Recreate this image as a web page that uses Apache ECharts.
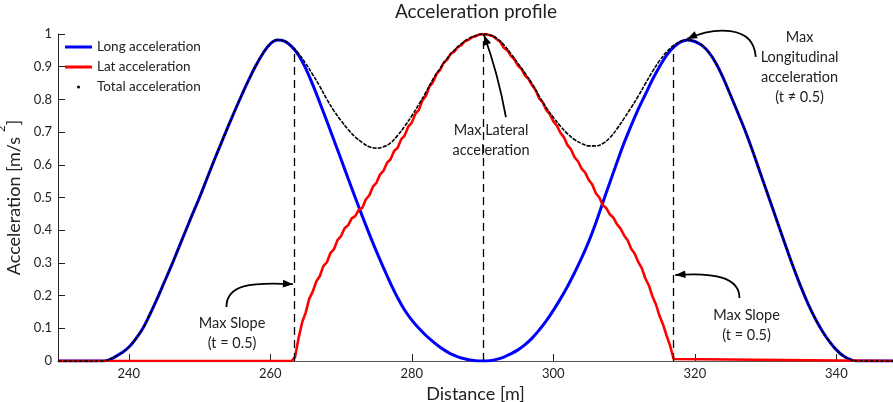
<!DOCTYPE html>
<html><head><meta charset="utf-8">
<script src="https://cdn.jsdelivr.net/npm/echarts@6/dist/echarts.min.js"></script>
<style>html,body{margin:0;padding:0;background:#fff}#c{width:893px;height:402px}</style>
</head><body><div id="c"></div>
<script>
// ---------- data ----------
const distance = [230,231,232,233,234,235,236,237,238,239,
  240,241,242,243,244,245,246,247,248,249,
  250,251,252,253,254,255,256,257,258,259,
  260,261,262,263,264,265,266,267,268,269,
  270,271,272,273,274,275,276,277,278,279,
  280,281,282,283,284,285,286,287,288,289,
  290,291,292,293,294,295,296,297,298,299,
  300,301,302,303,304,305,306,307,308,309,
  310,311,312,313,314,315,316,317,318,319,
  320,321,322,323,324,325,326,327,328,329,
  330,331,332,333,334,335,336,337,338,339,
  340,341,342,343,344,345,346,347,348];
const longAccel = [0,0,0,0,0,0,0,0.002,0.012,0.025,
  0.042,0.068,0.1,0.143,0.19,0.24,0.29,0.343,0.396,0.449,
  0.5,0.555,0.61,0.663,0.715,0.766,0.815,0.862,0.905,0.942,
  0.97,0.982,0.978,0.962,0.935,0.895,0.845,0.79,0.733,0.675,
  0.617,0.558,0.5,0.443,0.388,0.335,0.285,0.237,0.193,0.155,
  0.125,0.1,0.078,0.059,0.042,0.028,0.017,0.009,0.004,0.001,
  0,0.001,0.005,0.012,0.022,0.034,0.05,0.07,0.095,0.123,
  0.155,0.19,0.228,0.27,0.315,0.365,0.422,0.485,0.547,0.608,
  0.667,0.72,0.77,0.815,0.86,0.9,0.935,0.96,0.976,0.982,
  0.977,0.965,0.943,0.91,0.866,0.815,0.763,0.71,0.652,0.59,
  0.528,0.466,0.404,0.342,0.282,0.226,0.175,0.13,0.092,0.06,
  0.034,0.015,0.004,0,0,0,0,0,0];
const totalAccel = [0,0,0,0,0,0,0,0.002,0.012,0.025,
  0.042,0.068,0.1,0.143,0.19,0.24,0.29,0.343,0.396,0.449,
  0.5,0.555,0.61,0.663,0.715,0.766,0.815,0.862,0.905,0.942,
  0.97,0.982,0.978,0.962,0.94,0.91,0.876,0.84,0.8,0.765,
  0.735,0.708,0.685,0.668,0.655,0.651,0.655,0.667,0.69,0.718,
  0.75,0.785,0.822,0.862,0.895,0.925,0.95,0.97,0.985,0.995,
  1.0,0.997,0.987,0.967,0.94,0.91,0.88,0.848,0.81,0.775,
  0.745,0.718,0.695,0.677,0.665,0.658,0.658,0.665,0.683,0.71,
  0.742,0.775,0.81,0.848,0.885,0.918,0.945,0.965,0.978,0.982,
  0.977,0.965,0.943,0.91,0.866,0.815,0.763,0.71,0.652,0.59,
  0.528,0.466,0.404,0.342,0.282,0.226,0.175,0.13,0.092,0.06,
  0.034,0.015,0.004,0,0,0,0,0,0];
const latDistance = [230,263,263.5,264,264.5,265,265.5,266,266.5,267,267.5,268,268.5,269,269.5,
  270,270.5,271,271.5,272,272.5,273,273.5,274,274.5,275,275.5,276,276.5,277,277.5,278,278.5,279,279.5,
  280,280.5,281,281.5,282,282.5,283,283.5,284,284.5,285,285.5,286,286.5,287,287.5,288,288.5,289,289.5,
  290,290.5,291,291.5,292,292.5,293,293.5,294,294.5,295,295.5,296,296.5,297,297.5,298,298.5,299,299.5,
  300,300.5,301,301.5,302,302.5,303,303.5,304,304.5,305,305.5,306,306.5,307,307.5,308,308.5,309,309.5,
  310,310.5,311,311.5,312,312.5,313,313.5,314,314.5,315,315.5,316,316.5,317,317.2,348];
const latAccel = [0,0,0.012,0.07,0.118,0.148,0.19,0.212,0.243,0.26,0.29,0.302,0.33,0.342,0.37,
  0.382,0.406,0.415,0.436,0.443,0.462,0.468,0.494,0.507,0.533,0.545,0.57,0.582,0.606,0.617,0.642,0.652,0.678,0.69,0.717,
  0.729,0.756,0.768,0.797,0.811,0.84,0.853,0.878,0.89,0.912,0.922,0.94,0.946,0.96,0.966,0.978,0.982,0.99,0.993,0.998,
  1.0,0.999,0.996,0.993,0.984,0.976,0.958,0.95,0.933,0.922,0.903,0.893,0.873,0.862,0.843,0.828,0.803,0.791,0.768,0.755,
  0.733,0.72,0.698,0.684,0.66,0.647,0.623,0.61,0.588,0.576,0.554,0.54,0.513,0.5,0.476,0.467,0.448,0.438,0.418,0.405,
  0.384,0.369,0.343,0.328,0.303,0.284,0.253,0.231,0.198,0.173,0.138,0.112,0.078,0.047,0.006,0,0];
const xTicks = [240,260,280,300,320,340];
// annotation anchors (data units)
const guideX = [263.4, 290.1, 317.0];
const guideTop = [0.958, 1.0, 0.962];
const noteText = ['Max Slope\n(t = 0.5)', 'Max Slope\n(t = 0.5)', 'Max Lateral\nacceleration', 'Max\nLongitudinal\nacceleration\n(t \u2260 0.5)'];
const noteX = [254.6, 327.3, 291.2, 334.8];
const noteY = [0.086, 0.11, 0.676, 0.899];
const arrowPts = [
  [[253.8,0.165],[253.8,0.233],[257.2,0.242],[263.2,0.235]],
  [[326.3,0.193],[326.3,0.254],[323.0,0.272],[317.25,0.263]],
  [[293.3,0.746],[292.6,0.829],[291.5,0.920],[290.2,0.997]],
  [[328.6,0.930],[328.3,1.031],[322.6,1.021],[318.9,0.985]]
];
// ---------------------------------------------------
const FONT = 'Lato';
const TXT = '#222';
const chart = echarts.init(document.getElementById('c'));
const option = {
  animation: false,
  textStyle: {fontFamily: FONT},
  title: {text: 'Acceleration profile', left: 476, top: 2, textAlign: 'center', padding: 0,
    textStyle: {fontSize: 19, fontWeight: 'normal', color: TXT, fontFamily: FONT}},
  grid: {left: 58, right: 0, top: 34, bottom: 41, outerBoundsMode: 'none', containLabel: false},
  legend: {orient: 'vertical', left: 65, top: 40, padding: 0, itemWidth: 27, itemHeight: 3, itemGap: 6,
    selectedMode: false, textStyle: {fontSize: 13.5, color: TXT, fontFamily: FONT},
    itemStyle: {borderWidth: 0},
    data: [{name: 'Long acceleration', icon: 'rect'}, {name: 'Lat acceleration', icon: 'rect'},
           {name: 'Total acceleration', icon: 'circle'}]},
  xAxis: {type: 'value', min: 230, max: 348, name: 'Distance [m]', nameLocation: 'middle', nameGap: 24,
    nameTextStyle: {fontSize: 18, color: TXT, fontFamily: FONT},
    axisLine: {show: true, lineStyle: {color: '#555', width: 1}},
    axisTick: {show: true, inside: true, length: 7, customValues: xTicks, lineStyle: {color: '#222'}},
    axisLabel: {customValues: xTicks, margin: 6, fontSize: 13, color: TXT, fontFamily: FONT},
    splitLine: {show: false}},
  yAxis: {type: 'value', min: 0, max: 1, interval: 0.1,
    name: '{a|Acceleration [m/s }{s|2}{a|]}', nameLocation: 'middle', nameRotate: 90, nameGap: 22,
    nameTextStyle: {color: TXT, fontFamily: FONT,
      rich: {a: {fontSize: 18, lineHeight: 28, verticalAlign: 'bottom', color: TXT, fontFamily: FONT},
             s: {fontSize: 12, lineHeight: 12, verticalAlign: 'top', color: TXT, fontFamily: FONT}}},
    axisLine: {show: true, lineStyle: {color: '#222', width: 1}},
    axisTick: {show: true, inside: true, length: 7, lineStyle: {color: '#222'}},
    axisLabel: {margin: 6, fontSize: 13, color: TXT, fontFamily: FONT},
    splitLine: {show: false}},
  series: [
    {name: 'Long acceleration', type: 'line', data: distance.map((d,i)=>[d,longAccel[i]]),
     symbol: 'none', smooth: 0.4, lineStyle: {color: '#0000ff', width: 3}, itemStyle: {color: '#0000ff'}, z: 2},
    {name: 'Lat acceleration', type: 'line', data: latDistance.map((d,i)=>[d,latAccel[i]]),
     symbol: 'none', lineStyle: {color: '#ff0000', width: 2.6}, itemStyle: {color: '#ff0000'}, z: 3},
    {name: 'Total acceleration', type: 'line', data: distance.map((d,i)=>[d,totalAccel[i]]),
     symbol: 'none', smooth: 0.4, clip: false,
     lineStyle: {color: '#000', width: 1.6, type: [4,1.2]}, itemStyle: {color: '#000'}, z: 4,
     markLine: {silent: true, symbol: 'none', animation: false, label: {show: false},
       emphasis: {disabled: true},
       lineStyle: {color: '#000', width: 1.3, type: [8,5]},
       data: guideX.map((x,i)=>[{coord: [x,0]}, {coord: [x,guideTop[i]]}])}}
  ]
};
chart.setOption(option);

const toPx = p => chart.convertToPixel({gridIndex: 0}, p);
const graphics = [];
arrowPts.forEach(pts => {
  const [a,b,c,d] = pts.map(toPx);
  graphics.push({type: 'bezierCurve', silent: true, z: 10,
    shape: {x1: a[0], y1: a[1], cpx1: b[0], cpy1: b[1], cpx2: c[0], cpy2: c[1], x2: d[0], y2: d[1]},
    style: {stroke: '#000', lineWidth: 1.8, fill: null}});
  let ux = d[0]-c[0], uy = d[1]-c[1];
  const L = Math.hypot(ux,uy); ux/=L; uy/=L;
  const bx = d[0]-10*ux, by = d[1]-10*uy, nx = -uy, ny = ux;
  graphics.push({type: 'polygon', silent: true, z: 11,
    shape: {points: [[d[0],d[1]],[bx+3.8*nx,by+3.8*ny],[bx-3.8*nx,by-3.8*ny]]},
    style: {fill: '#000'}});
});
noteText.forEach((t,i) => {
  const p = toPx([noteX[i], noteY[i]]);
  graphics.push({type: 'text', silent: true, z: 12, x: p[0], y: p[1],
    style: {text: t, align: 'center', verticalAlign: 'middle', fontSize: 14.5, fontFamily: FONT,
            fill: TXT, lineHeight: 20}});
});
chart.setOption({graphic: graphics});
</script>
</body></html>
